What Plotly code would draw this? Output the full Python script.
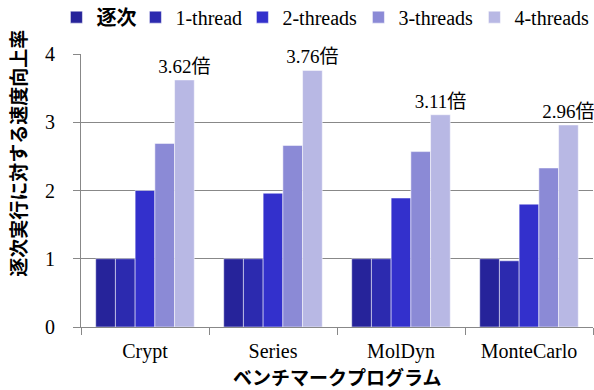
import plotly.graph_objects as go

categories = ["Crypt", "Series", "MolDyn", "MonteCarlo"]
series_names = ["<b>逐次</b>", "1-thread", "2-threads", "3-threads", "4-threads"]
seq_vals = [1.0, 1.0, 1.0, 1.0]
t1_vals = [1.0, 1.0, 1.0, 0.97]
t2_vals = [2.0, 1.96, 1.89, 1.80]
t3_vals = [2.69, 2.66, 2.57, 2.33]
t4_vals = [3.62, 3.76, 3.11, 2.96]
t4_labels = ["3.62倍", "3.76倍", "3.11倍", "2.96倍"]
colors = ["#26239A", "#2C2AAF", "#3330CC", "#8B8AD6", "#B8B8E4"]
legend_widths = [34, 62, 71, 71, 74]
y_ticks = [0, 1, 2, 3, 4]

serif = "'Liberation Serif', 'Times New Roman', 'Noto Sans CJK JP', serif"
gothic = "'Noto Sans CJK JP', sans-serif"

fig = go.Figure()
all_vals = [seq_vals, t1_vals, t2_vals, t3_vals, t4_vals]
for i, (name, vals, col, lw) in enumerate(zip(series_names, all_vals, colors, legend_widths)):
    kw = {}
    if i == 4:
        kw = dict(text=t4_labels, textposition="outside", cliponaxis=False,
                  constraintext="none",
                  textfont=dict(family=serif, size=19, color="#000"))
    fig.add_trace(go.Bar(x=categories, y=vals, name=name, legendwidth=lw,
                         marker=dict(color=col, line=dict(color="rgba(255,255,255,0.5)", width=1)),
                         **kw))

fig.update_layout(
    width=594, height=390,
    margin=dict(l=81, r=1, t=54, b=63, autoexpand=False),
    paper_bgcolor="white", plot_bgcolor="white",
    barmode="group", bargap=0.23, bargroupgap=0,
    font=dict(family=serif, size=20, color="#000"),
    showlegend=True,
    legend=dict(orientation="h", x=-0.048, xanchor="left", y=1.135, yanchor="middle",
                font=dict(family=serif, size=20, color="#000"),
                itemwidth=30, traceorder="normal"),
    xaxis=dict(showline=True, linecolor="#888", linewidth=1, ticks="outside",
               tickson="boundaries", ticklen=7, tickcolor="#888",
               ticklabelstandoff=6,
               tickfont=dict(family=serif, size=20, color="#000")),
    yaxis=dict(range=[0, 4], tickvals=y_ticks, showline=True, linecolor="#888",
               linewidth=1, ticks="outside", ticklen=7, tickcolor="#888",
               ticklabelstandoff=14,
               showgrid=True, gridcolor="#888", gridwidth=1, zeroline=False,
               tickfont=dict(family=serif, size=20, color="#000")),
    annotations=[
        dict(text="<b>逐次実行に対する速度向上率</b>", textangle=-90,
             xref="paper", yref="paper", x=-0.123, y=0.635, xanchor="center",
             yanchor="middle", showarrow=False,
             font=dict(family=gothic, size=19, color="#000")),
        dict(text="<b>ベンチマークプログラム</b>",
             xref="paper", yref="paper", x=0.5, y=-0.183, xanchor="center",
             yanchor="middle", showarrow=False,
             font=dict(family=gothic, size=19, color="#000")),
    ],
)

fig.write_html("out.html")
